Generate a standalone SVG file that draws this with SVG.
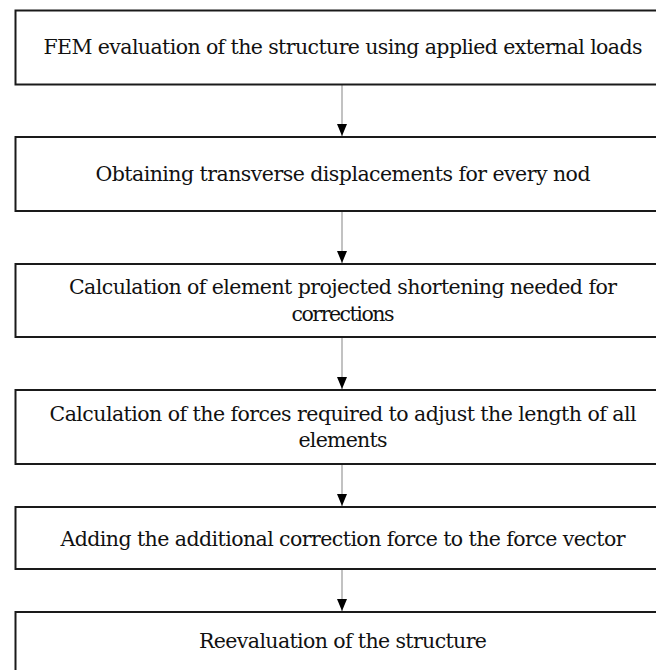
<svg xmlns="http://www.w3.org/2000/svg" width="656" height="670" viewBox="0 0 656 670">
<style>
.box{fill:#fff;stroke:#1a1a1a;stroke-width:2}
text{font-family:'DejaVu Serif','Liberation Serif',serif;font-size:20.5px;fill:#111;text-anchor:middle}
.conn{stroke:#999;stroke-width:1.2;fill:none;marker-end:url(#ah)}
</style>
<defs>
<marker id="ah" viewBox="0 0 12 10" refX="12" refY="5" markerWidth="12" markerHeight="10" markerUnits="userSpaceOnUse" orient="auto">
<path d="M0,0 L12,5 L0,10 z" fill="#000"/>
</marker>
</defs>
<rect width="656" height="670" fill="#fff"/>
<g id="connectors">
<line class="conn" x1="342" y1="85" x2="342" y2="136"/>
<line class="conn" x1="342" y1="212" x2="342" y2="263"/>
<line class="conn" x1="342" y1="338" x2="342" y2="389"/>
<line class="conn" x1="342" y1="465" x2="342" y2="506"/>
<line class="conn" x1="342" y1="570" x2="342" y2="611"/>
</g>
<g id="n1">
<rect class="box" x="15.5" y="10.5" width="654" height="74"/>
<text x="343" y="54" textLength="599" lengthAdjust="spacing">FEM evaluation of the structure using applied external loads</text>
</g>
<g id="n2">
<rect class="box" x="15.5" y="137" width="654" height="74"/>
<text x="343" y="181" textLength="495" lengthAdjust="spacing">Obtaining transverse displacements for every nod</text>
</g>
<g id="n3">
<rect class="box" x="15.5" y="264" width="654" height="73"/>
<text x="343" y="294" textLength="548" lengthAdjust="spacing">Calculation of element projected shortening needed for</text>
<text x="343" y="321" textLength="103" lengthAdjust="spacing">corrections</text>
</g>
<g id="n4">
<rect class="box" x="15.5" y="390" width="654" height="74"/>
<text x="343" y="421" textLength="587" lengthAdjust="spacing">Calculation of the forces required to adjust the length of all</text>
<text x="343" y="447" textLength="89" lengthAdjust="spacing">elements</text>
</g>
<g id="n5">
<rect class="box" x="15.5" y="507" width="654" height="62"/>
<text x="343" y="546" textLength="565" lengthAdjust="spacing">Adding the additional correction force to the force vector</text>
</g>
<g id="n6">
<rect class="box" x="15.5" y="612" width="654" height="80"/>
<text x="343" y="648" textLength="288" lengthAdjust="spacing">Reevaluation of the structure</text>
</g>
</svg>
